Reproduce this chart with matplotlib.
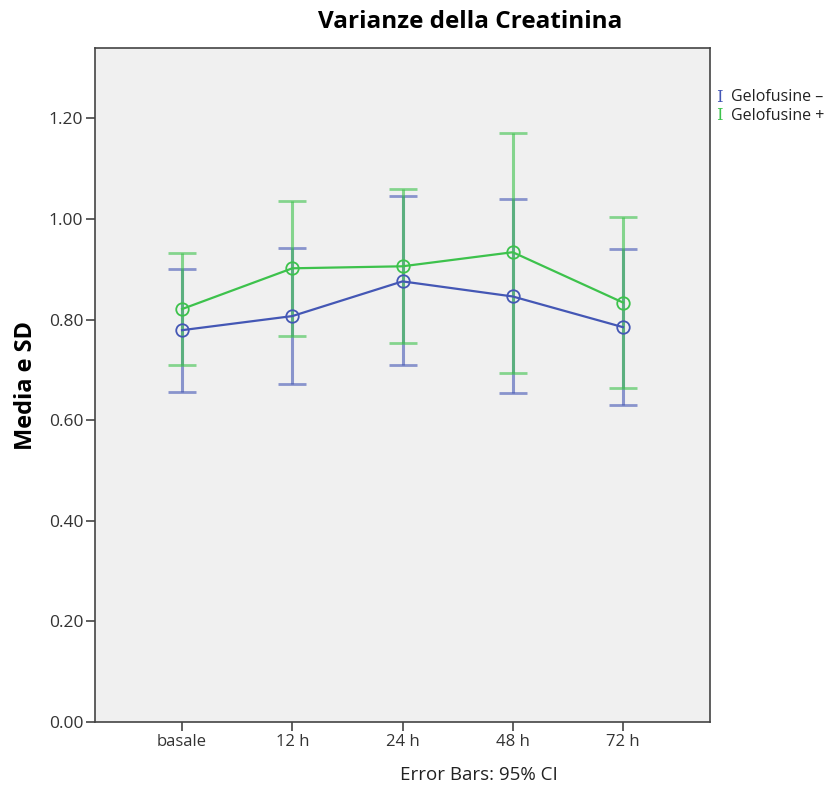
import numpy as np
import matplotlib
matplotlib.use("Agg")
import matplotlib.pyplot as plt

# Data
categories = ["basale", "12 h", "24 h", "48 h", "72 h"]

mean_neg = [0.779, 0.807, 0.876, 0.846, 0.785]
upper_neg = [0.900, 0.942, 1.045, 1.039, 0.940]
lower_neg = [0.656, 0.672, 0.709, 0.654, 0.630]

mean_pos = [0.821, 0.902, 0.906, 0.934, 0.834]
upper_pos = [0.932, 1.035, 1.059, 1.172, 1.005]
lower_pos = [0.709, 0.767, 0.753, 0.693, 0.664]

labels = ["Gelofusine \u2013", "Gelofusine +"]
blue = "#4457b5"
green = "#3dc24c"

plt.rcParams["font.family"] = ["Open Sans", "DejaVu Sans"]

fig = plt.figure(figsize=(8.38, 7.89), dpi=100)
ax = fig.add_axes([95 / 838, 67 / 789, 615 / 838, 674 / 789])
ax.set_facecolor("#f0f0f0")

x = np.arange(len(categories))

for mean, up, lo, col in [(mean_neg, upper_neg, lower_neg, blue),
                          (mean_pos, upper_pos, lower_pos, green)]:
    mean = np.array(mean)
    err = [mean - np.array(lo), np.array(up) - mean]
    ax.errorbar(x, mean, yerr=err, fmt="none", ecolor=col, elinewidth=2.2,
                capsize=10, capthick=2, alpha=0.6, zorder=2)
    ax.plot(x, mean, color=col, lw=1.6, marker="o", markersize=9,
            markerfacecolor="none", markeredgecolor=col, markeredgewidth=1.3,
            zorder=3)

ax.set_xlim(-0.79, 4.79)
ax.set_ylim(0, 1.34)
ax.set_xticks(x)
ax.set_xticklabels(categories, fontsize=12, color="#333333")
ax.set_yticks(np.arange(0, 1.21, 0.2))
ax.set_yticklabels(["%.2f" % v for v in np.arange(0, 1.21, 0.2)],
                   fontsize=12.5, color="#333333")
ax.tick_params(direction="out", length=6.5, width=1.2, color="#444444", pad=2)
for s in ax.spines.values():
    s.set_color("#444444")
    s.set_linewidth(1.2)

ax.set_ylabel("Media e SD", fontsize=17, fontweight="bold", labelpad=8)
fig.text(479 / 838, 1 - 775 / 789, "Error Bars: 95% CI", ha="center",
         va="center", fontsize=13.5, color="#222222")
fig.text(470 / 838, 1 - 22 / 789, "Varianze della Creatinina", ha="center",
         va="center", fontsize=17.5, fontweight="bold")

# legend drawn as text outside the axes
for i, (lab, col) in enumerate(zip(labels, [blue, green])):
    yy = 1 - (97 + i * 19) / 789
    fig.text(716 / 838, yy, "I", color=col, fontsize=12, va="center",
             family="DejaVu Serif")
    fig.text(731 / 838, yy, lab, color="#222222", fontsize=11.5, va="center")

fig.savefig("out.png", dpi=100)
